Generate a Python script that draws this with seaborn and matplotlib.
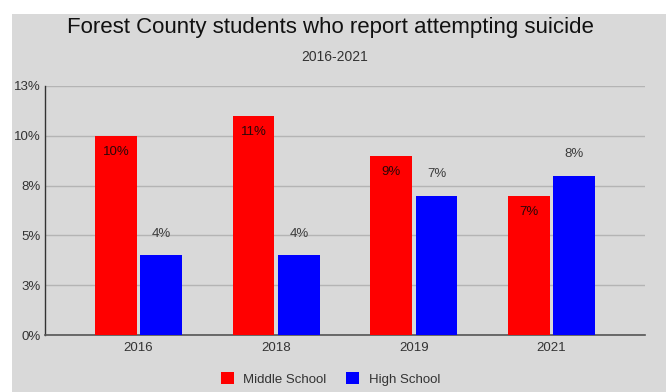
import matplotlib
matplotlib.use("Agg")
import matplotlib.pyplot as plt
import matplotlib.patches as mpatches
import seaborn as sns
import pandas as pd

# Survey years and share of students (percent) reporting a suicide attempt
years = ["2016", "2018", "2019", "2021"]
middle_school = [10, 11, 9, 7]
high_school = [4, 4, 7, 8]
series_names = ["Middle School", "High School"]
series_colors = ["#ff0000", "#0000ff"]

# Y axis ticks every 2.5 points, labelled rounded half-up
y_ticks = [0, 2.5, 5, 7.5, 10, 12.5]
y_tick_labels = ["0%", "3%", "5%", "8%", "10%", "13%"]

df = pd.DataFrame({
    "Year": years * 2,
    "Percent": middle_school + high_school,
    "Level": [series_names[0]] * len(years) + [series_names[1]] * len(years),
})

sns.set_theme(style="white")
plt.rcParams["font.family"] = ["Liberation Sans", "DejaVu Sans"]

bg = "#d9d9d9"
fig = plt.figure(figsize=(6.7, 3.92), dpi=100, facecolor="white")
fig.patches.append(mpatches.Rectangle((12 / 670, 0), 654 / 670, 378 / 392,
                                      transform=fig.transFigure,
                                      facecolor=bg, edgecolor="none", zorder=-10))
ax = fig.add_axes([45 / 670, 57 / 392, 600 / 670, 249 / 392])
ax.set_facecolor(bg)

sns.barplot(data=df, x="Year", y="Percent", hue="Level",
            palette=series_colors, width=0.66, gap=0.08,
            saturation=1, ax=ax, legend=False, zorder=3,
            linewidth=0, edgecolor="none")

ax.set_xlim(-0.68, 3.68)
ax.set_ylim(0, 12.5)
ax.set_yticks(y_ticks)
ax.set_yticklabels(y_tick_labels)
ax.grid(axis="y", color="#b4b4b4", linewidth=1, zorder=1)
ax.set_axisbelow(True)
ax.set_xlabel("")
ax.set_ylabel("")

for side in ["top", "right"]:
    ax.spines[side].set_visible(False)
ax.spines["left"].set_color("#333333")
ax.spines["left"].set_linewidth(1)
ax.spines["bottom"].set_color("#555555")
ax.spines["bottom"].set_linewidth(1.2)
ax.tick_params(axis="both", length=0, labelsize=9.5, colors="#333333", pad=5)
ax.tick_params(axis="y", pad=3)

# Value labels: inside the top of middle school bars, above high school bars
for container, name in zip(ax.containers, series_names):
    if name == "Middle School":
        ax.bar_label(container, labels=[f"{v:.0f}%" for v in container.datavalues],
                     padding=-16, fontsize=9.5, color="#2a0808", zorder=4)
    else:
        ax.bar_label(container, labels=[f"{v:.0f}%" for v in container.datavalues],
                     padding=11, fontsize=9.5, color="#3c3c3c", zorder=4)

fig.text(0.493, 1 - 27 / 392, "Forest County students who report attempting suicide",
         ha="center", va="center", fontsize=16, color="#111111")
fig.text(0.5, 1 - 57 / 392, "2016-2021", ha="center", va="center",
         fontsize=10, color="#333333")

handles = [mpatches.Patch(facecolor=c, edgecolor="none") for c in series_colors]
fig.legend(handles, series_names, loc="center", bbox_to_anchor=(0.493, 1 - 379 / 392),
           ncol=2, frameon=False, fontsize=9.5, handlelength=1.0, handleheight=1.0,
           handletextpad=0.7, columnspacing=1.5, labelcolor="#333333")

fig.savefig("out.png", dpi=100, facecolor="white")
